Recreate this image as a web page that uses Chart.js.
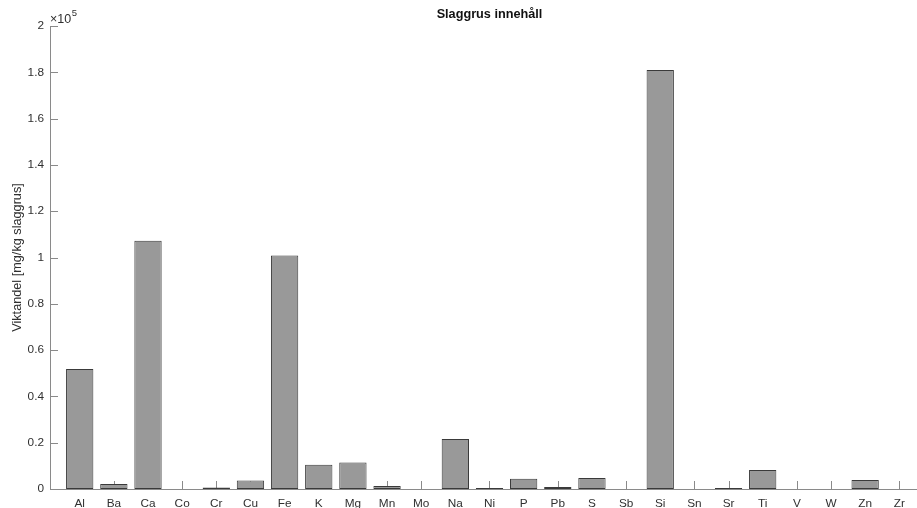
<!DOCTYPE html>
<html>
<head>
<meta charset="utf-8">
<title>Slaggrus innehåll</title>
<script src="https://cdn.jsdelivr.net/npm/chart.js@4/dist/chart.umd.min.js"></script>
<style>
  html, body { margin: 0; padding: 0; background: #fff; overflow: hidden; }
  #wrap { width: 917px; height: 508px; overflow: hidden; }
  #box { width: 929px; height: 508px; position: relative; }
</style>
</head>
<body>
<div id="wrap"><div id="box"><canvas id="graf"></canvas></div></div>
<script>
// grundämnen i slaggrus och halt i mg/kg
const amnen = ['Al', 'Ba', 'Ca', 'Co', 'Cr', 'Cu', 'Fe', 'K', 'Mg', 'Mn', 'Mo', 'Na', 'Ni',
  'P', 'Pb', 'S', 'Sb', 'Si', 'Sn', 'Sr', 'Ti', 'V', 'W', 'Zn', 'Zr'];
const halter = [51800, 2200, 107200, 0, 600, 3700, 100900, 10500, 11500, 1300, 0, 21600, 400,
  4400, 900, 4700, 0, 181000, 0, 400, 8200, 0, 0, 3900, 0];
const yTicks = [0, 20000, 40000, 60000, 80000, 100000, 120000, 140000, 160000, 180000, 200000];
const exponent = 5;

const FONT = "'Liberation Sans', Arial, Helvetica, sans-serif";
const AXIS = '#8a8a8a';
const TEXT = '#303030';
const TICK_LEN = 8;

// ticks pekar inåt i ritytan, som i MATLAB
const inwardTicks = {
  id: 'inwardTicks',
  beforeDatasetsDraw(chart) {
    const { ctx, chartArea, scales } = chart;
    ctx.save();
    ctx.strokeStyle = AXIS;
    ctx.lineWidth = 1;
    ctx.beginPath();
    scales.x.ticks.forEach(t => {
      const px = Math.round(scales.x.getPixelForValue(t.value)) + 0.5;
      ctx.moveTo(px, chartArea.bottom);
      ctx.lineTo(px, chartArea.bottom - TICK_LEN);
    });
    scales.y.ticks.forEach(t => {
      const py = Math.round(scales.y.getPixelForValue(t.value)) + 0.5;
      ctx.moveTo(chartArea.left, py);
      ctx.lineTo(chartArea.left + TICK_LEN, py);
    });
    ctx.stroke();
    ctx.restore();
  }
};

// skalfaktor x10^5 ovanför y-axeln
const expLabel = {
  id: 'expLabel',
  afterDraw(chart) {
    const { ctx, chartArea } = chart;
    ctx.save();
    ctx.fillStyle = TEXT;
    ctx.textAlign = 'left';
    ctx.textBaseline = 'alphabetic';
    ctx.font = '12.5px ' + FONT;
    const base = '\u00d710';
    ctx.fillText(base, chartArea.left, chartArea.top - 3);
    const w = ctx.measureText(base).width;
    ctx.font = '9.5px ' + FONT;
    ctx.fillText(String(exponent), chartArea.left + w + 0.5, chartArea.top - 10);
    ctx.restore();
  }
};

const punkter = amnen.map((a, i) => ({ x: i + 1, y: halter[i] }));

new Chart(document.getElementById('graf'), {
  type: 'bar',
  data: {
    datasets: [{
      label: 'Viktandel',
      data: punkter,
      backgroundColor: '#999999',
      borderColor: '#3a3a3a',
      borderWidth: 1,
      borderSkipped: false,
      barPercentage: 0.8,
      categoryPercentage: 1
    }]
  },
  options: {
    responsive: true,
    maintainAspectRatio: false,
    animation: false,
    layout: { padding: 0 },
    plugins: {
      legend: { display: false },
      tooltip: { enabled: false },
      title: {
        display: true,
        text: 'Slaggrus innehåll',
        fullSize: false,
        color: '#111',
        font: { family: FONT, size: 12.7, weight: 'bold' },
        padding: { top: 7, bottom: 3.76 }
      }
    },
    scales: {
      x: {
        type: 'linear',
        offset: false,
        min: 0.13,
        max: 25.87,
        grid: { display: false, drawTicks: false, offset: false },
        border: { display: true, color: AXIS, width: 1 },
        afterFit(scale) { scale.height = 19; },
        ticks: {
          stepSize: 1,
          includeBounds: false,
          autoSkip: false,
          maxRotation: 0,
          padding: 8,
          color: TEXT,
          font: { family: FONT, size: 11.8 },
          callback: v => amnen[v - 1] || ''
        }
      },
      y: {
        min: 0,
        max: 200000,
        grid: { display: false, drawTicks: false },
        border: { display: true, color: AXIS, width: 1 },
        afterFit(scale) { scale.width = 50; },
        afterBuildTicks(scale) { scale.ticks = yTicks.map(v => ({ value: v })); },
        ticks: {
          padding: 6,
          color: TEXT,
          font: { family: FONT, size: 11.8 },
          callback: v => String(Number((v / Math.pow(10, exponent)).toFixed(1)))
        },
        title: {
          display: true,
          text: 'Viktandel [mg/kg slaggrus]',
          color: TEXT,
          font: { family: FONT, size: 12.7 },
          padding: { top: 10, bottom: 0 }
        }
      }
    }
  },
  plugins: [inwardTicks, expLabel]
});
</script>
</body>
</html>
